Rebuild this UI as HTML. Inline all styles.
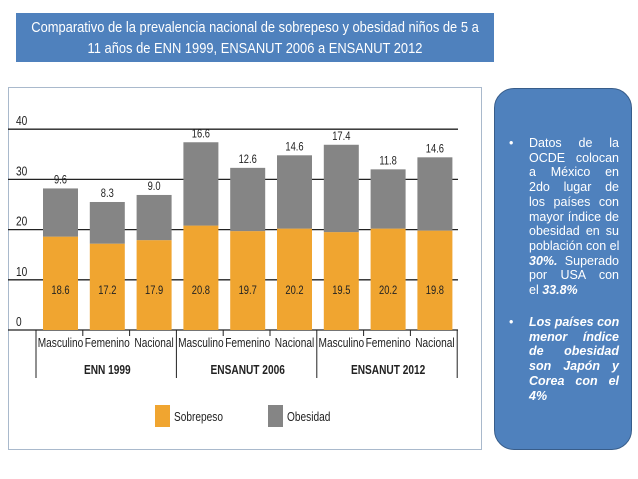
<!DOCTYPE html>
<html><head><meta charset="utf-8">
<style>
html,body{margin:0;padding:0;background:#fff;}
body{width:638px;height:479px;position:relative;overflow:hidden;font-family:"Liberation Sans",sans-serif;}
#title{position:absolute;left:16px;top:13px;width:478px;height:49px;background:#4f81bd;color:#fff;font-size:15px;line-height:21px;padding-top:4px;box-sizing:border-box;}
#title span{display:block;width:max-content;white-space:nowrap;margin-left:50%;transform:translateX(-50%) scaleX(0.86);transform-origin:0 50%;}
#title span{transform-origin:center;transform:translateX(-50%) scaleX(0.86);}
#panel{position:absolute;left:8px;top:87px;width:474px;height:363px;border:1px solid #a9b9cc;box-sizing:border-box;}
#note{position:absolute;left:494px;top:88px;width:138px;height:362px;background:#4f81bd;border:1.5px solid #385d8a;border-radius:20px;box-sizing:border-box;color:#fff;font-size:12.5px;line-height:14.7px;}
.p{position:absolute;left:34px;width:90px;}
.p div{text-align:justify;text-align-last:justify;white-space:nowrap;}
.p div.last{text-align-last:left;}
.b{position:absolute;left:14px;}
</style></head><body>
<div id="title"><span>Comparativo de la prevalencia nacional de sobrepeso y obesidad niños de 5 a</span><span>11 años de ENN 1999, ENSANUT 2006 a ENSANUT 2012</span></div>
<div id="panel"></div>
<svg id="chart" width="638" height="479" style="position:absolute;left:0;top:0"></svg>
<div id="note">
 <span class="b" style="top:47px">•</span>
 <div class="p" style="top:47px">
  <div>Datos de la</div><div>OCDE colocan</div><div>a México en</div><div>2do lugar de</div><div>los países con</div><div>mayor índice de</div><div>obesidad en su</div><div>población con el</div><div><b><i>30%.</i></b> Superado</div><div>por USA con</div><div class="last">el <b><i>33.8%</i></b></div>
 </div>
 <span class="b" style="top:226px">•</span>
 <div class="p" style="top:226px;font-weight:bold;font-style:italic">
  <div>Los países con</div><div>menor índice</div><div>de obesidad</div><div>son Japón y</div><div>Corea con el</div><div class="last">4%</div>
 </div>
</div>
<script>
const categories=["Masculino","Femenino","Nacional","Masculino","Femenino","Nacional","Masculino","Femenino","Nacional"];
const groups=["ENN 1999","ENSANUT 2006","ENSANUT 2012"];
const sobrepeso=[18.6,17.2,17.9,20.8,19.7,20.2,19.5,20.2,19.8];
const obesidad=[9.6,8.3,9.0,16.6,12.6,14.6,17.4,11.8,14.6];
const yTicks=[0,10,20,30,40];
const NS="http://www.w3.org/2000/svg";
const svg=document.getElementById('chart');
const y0=330,pxPer=5.02,x0=43,step=46.8,bw=35;
const yScale=v=>y0-v*pxPer;
const xScale=i=>x0+i*step;
function mk(tag,attrs,parent){const e=document.createElementNS(NS,tag);for(const k in attrs)e.setAttribute(k,attrs[k]);(parent||svg).appendChild(e);return e;}
function txt(x,y,s,size,anchor,weight){
 const g=mk('g',{transform:'translate('+x+','+y+') scale(0.78,1)'});
 const t=mk('text',{x:0,y:0,'font-size':size,'text-anchor':anchor,fill:'#222','font-weight':weight||'normal'},g);
 t.textContent=s;return t;
}
yTicks.forEach(t=>{
 const l=mk('line',{x1:8,x2:458,y1:yScale(t),y2:yScale(t),stroke:'#222','stroke-width':1.3});
 
 
 const tx=txt(16,yScale(t)-4,String(t),13,'start');
 
 
});
categories.forEach((c,i)=>{
 const x=xScale(i),ys=yScale(sobrepeso[i]),yo=yScale(sobrepeso[i]+obesidad[i]);
 const r1=mk('rect',{x:x,y:ys,width:bw,height:y0-ys,fill:'#f0a530'});
 
 
 const r2=mk('rect',{x:x,y:yo,width:bw,height:ys-yo,fill:'#858585'});
 
 
 const t1=txt(x+bw/2,294,sobrepeso[i].toFixed(1),12,'middle');
 
 
 const t2=txt(x+bw/2,yo-5,obesidad[i].toFixed(1),12,'middle');
 
 
 const cl=txt(x+bw/2,347,c,13,'middle');
 
 
});
for(let i=0;i<=categories.length;i++){
 const x=xScale(i)-7;const long=i%3===0;
 const l=mk('line',{x1:x,x2:x,y1:y0,y2:long?378:336,stroke:'#222','stroke-width':1});
 
 
}
groups.forEach((g,j)=>{
 const tx=txt(xScale(j*3+1)+bw/2,374,g,13,'middle','bold');
 
 
});
const legend=[["Sobrepeso","#f0a530",155],["Obesidad","#858585",268]];
legend.forEach(([n,c,x])=>{
 const r=mk('rect',{x:x,y:405,width:15,height:22,fill:c});
 
 
 const t=txt(x+19,421,n,13,'start');
 
 
});
</script>
</body></html>
